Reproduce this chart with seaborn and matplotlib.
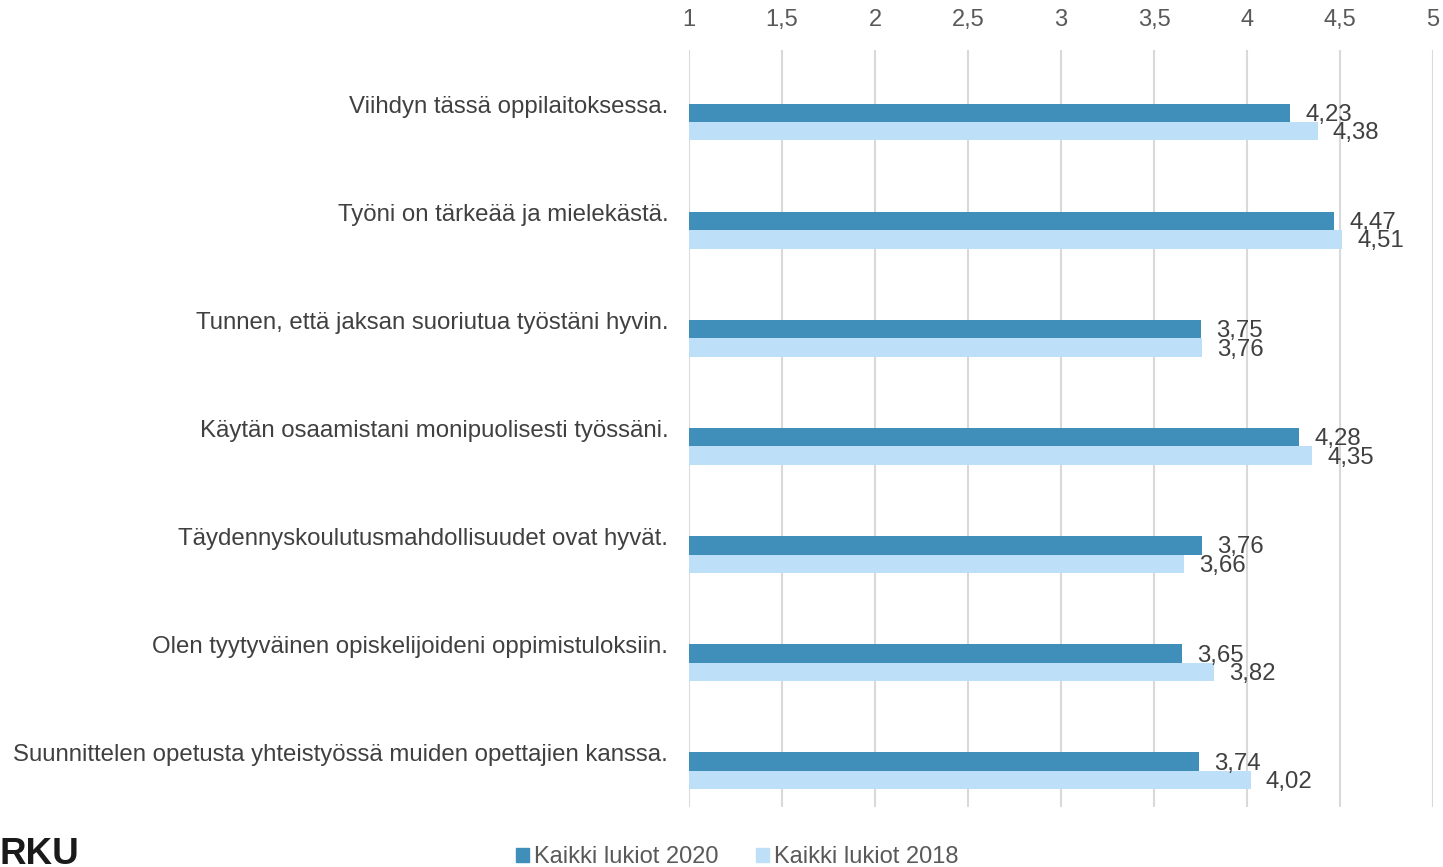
"""
Opettajakysely: keskiarvot, Kaikki lukiot 2020 vs 2018 (vaakapalkit)
"""
import numpy as np
import pandas as pd
import matplotlib
matplotlib.use("Agg")
import matplotlib.pyplot as plt
import seaborn as sns

# ── Data ──
questions = [
    "Viihdyn tässä oppilaitoksessa.",
    "Työni on tärkeää ja mielekästä.",
    "Tunnen, että jaksan suoriutua työstäni hyvin.",
    "Käytän osaamistani monipuolisesti työssäni.",
    "Täydennyskoulutusmahdollisuudet ovat hyvät.",
    "Olen tyytyväinen opiskelijoideni oppimistuloksiin.",
    "Suunnittelen opetusta yhteistyössä muiden opettajien kanssa.",
]
series_names = ["Kaikki lukiot 2020", "Kaikki lukiot 2018"]
values_2020 = [4.23, 4.47, 3.75, 4.28, 3.76, 3.65, 3.74]
values_2018 = [4.38, 4.51, 3.76, 4.35, 3.66, 3.82, 4.02]
x_ticks = [1, 1.5, 2, 2.5, 3, 3.5, 4, 4.5, 5]

colors = ["#3f8fba", "#bddff7"]
text_color = "#404040"
tick_color = "#595959"

df = pd.DataFrame({
    "kysymys": questions * 2,
    "sarja": [series_names[0]] * len(questions) + [series_names[1]] * len(questions),
    "arvo": values_2020 + values_2018,
})

sns.set_style("white")
plt.rcParams["font.family"] = ["Liberation Sans", "DejaVu Sans"]

fig = plt.figure(figsize=(14.43, 8.67), dpi=100)
ax = fig.add_axes([689 / 1443, 1 - 807 / 867, (1433 - 689) / 1443, (807 - 50) / 867])

sns.barplot(
    data=df, y="kysymys", x="arvo", hue="sarja",
    hue_order=series_names, order=questions,
    palette=colors, orient="h", width=0.34,
    saturation=1, errorbar=None, ax=ax, legend=False,
    edgecolor="none",
)

# ── Akselit ──
ax.set_xlim(1, 5)
ax.set_ylim(6.334, -0.666)
ax.xaxis.tick_top()
ax.set_xticks(x_ticks, [f"{t:g}".replace(".", ",") for t in x_ticks])
ax.tick_params(axis="x", length=0, pad=14, labelsize=17, labelcolor=tick_color)
ax.grid(axis="x", color="#d9d9d9", linewidth=1.5)
ax.set_axisbelow(True)

# kategoriatekstit kaistan keskelle (palkit hieman alempana)
ax.set_yticks(np.arange(len(questions)) - 0.1665, questions)
ax.tick_params(axis="y", length=0, pad=15, labelsize=17.3, labelcolor=text_color)
ax.set_xlabel("")
ax.set_ylabel("")
for s in ax.spines.values():
    s.set_visible(False)

# ── Arvotekstit ──
for cont in ax.containers:
    labels = [f"{b.get_width():.2f}".replace(".", ",") for b in cont]
    anns = ax.bar_label(cont, labels=labels, padding=11, fontsize=17.3, color=text_color)
    for a in anns:
        a.xyann = (11, -1.5)

# ── Selite ──
handles = [plt.Rectangle((0, 0), 1, 1, color=c) for c in colors]
fig.legend(
    handles, series_names, loc="center", ncol=2,
    bbox_to_anchor=(737 / 1443, 1 - 857 / 867),
    frameon=False, fontsize=17, labelcolor=tick_color,
    handlelength=0.55, handleheight=0.55, handletextpad=0.2,
    columnspacing=1.6, borderpad=0,
)

fig.text(0.0, 1 - 864 / 867, "RKU", fontsize=26.5, fontweight="bold",
         color="#1a1a1a", ha="left", va="baseline")

fig.savefig("out.png", dpi=100)
plt.close(fig)
